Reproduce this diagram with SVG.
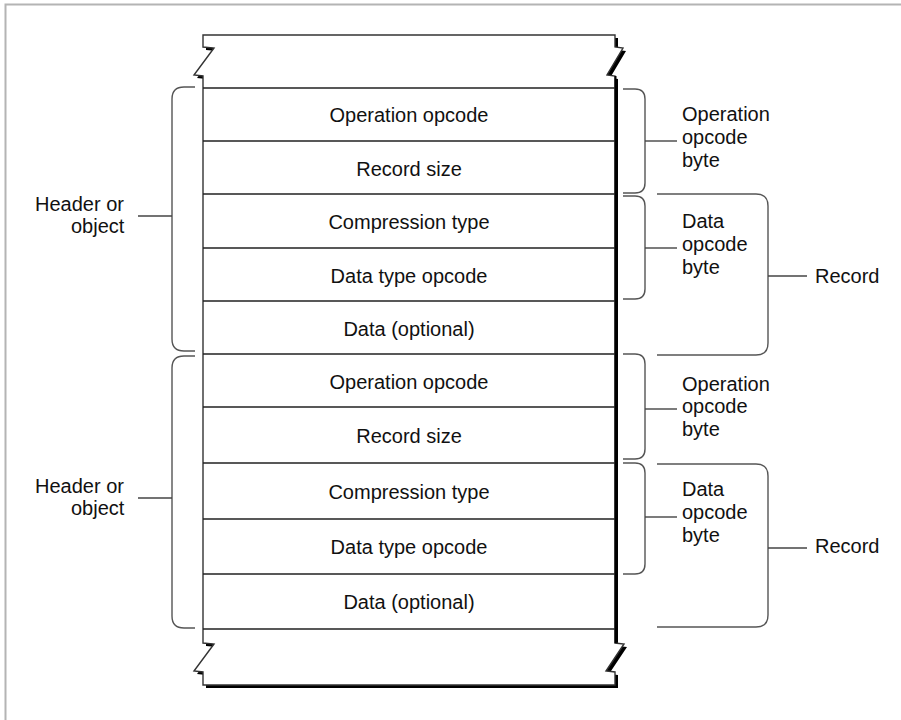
<svg xmlns="http://www.w3.org/2000/svg" width="901" height="720" viewBox="0 0 901 720">
<style>
text{font-family:"Liberation Sans",Arial,sans-serif;font-size:20px;fill:#111}
.c{text-anchor:middle}
.row{stroke:#222;stroke-width:1.5;fill:none}
.br{stroke:#555;stroke-width:1.4;fill:none}
.tk{stroke:#444;stroke-width:1.4;fill:none}
</style>
<rect width="901" height="720" fill="#fff"/>
<path d="M5.5,720 V4.5 H901" fill="none" stroke="#b4b4b4" stroke-width="2"/>
<g id="column">
<path transform="translate(3,3)" d="M203,35 H615 V47 L623,48 L607,75 L615,76 V643 L624,644 L606,671 L615,672 V685 H203 V672 L194,671 L214,644 L203,643 V76 L194,75 L214,48 L203,47 Z" fill="#000"/>
<path d="M203,35 H615 V47 L623,48 L607,75 L615,76 V643 L624,644 L606,671 L615,672 V685 H203 V672 L194,671 L214,644 L203,643 V76 L194,75 L214,48 L203,47 Z" fill="#fff" stroke="#333" stroke-width="1.4" stroke-linejoin="miter"/>
<line x1="615.5" y1="76" x2="615.5" y2="643" stroke="#000" stroke-width="2"/>
</g>
<g id="rows">
<path class="row" d="M203,88 H615 M203,141 H615 M203,194 H615 M203,248 H615 M203,301 H615 M203,354 H615 M203,407 H615 M203,463 H615 M203,519 H615 M203,574 H615 M203,629 H615"/>
</g>
<g id="r1"><text class="c" x="409" y="122">Operation opcode</text></g>
<g id="r2"><text class="c" x="409" y="176">Record size</text></g>
<g id="r3"><text class="c" x="409" y="229">Compression type</text></g>
<g id="r4"><text class="c" x="409" y="283">Data type opcode</text></g>
<g id="r5"><text class="c" x="409" y="336">Data (optional)</text></g>
<g id="r6"><text class="c" x="409" y="389">Operation opcode</text></g>
<g id="r7"><text class="c" x="409" y="443">Record size</text></g>
<g id="r8"><text class="c" x="409" y="499">Compression type</text></g>
<g id="r9"><text class="c" x="409" y="554">Data type opcode</text></g>
<g id="r10"><text class="c" x="409" y="609">Data (optional)</text></g>
<g id="connectors">
<path class="br" d="M195,87 H184 Q172,87 172,99 V339 Q172,351 184,351 H195"/>
<path class="tk" d="M138,216 H172"/>
<path class="br" d="M195,356 H184 Q172,356 172,368 V616 Q172,628 184,628 H195"/>
<path class="tk" d="M138,498 H172"/>
<path class="br" d="M623,89 H635 Q645,89 645,99 V183 Q645,193 635,193 H623"/>
<path class="tk" d="M645,141 H677"/>
<path class="br" d="M623,196 H635 Q645,196 645,206 V289 Q645,299 635,299 H623"/>
<path class="tk" d="M645,248 H677"/>
<path class="br" d="M657,194 H756 Q768,194 768,206 V343 Q768,355 756,355 H657"/>
<path class="tk" d="M768,276 H807"/>
<path class="br" d="M623,354 H635 Q645,354 645,364 V449 Q645,459 635,459 H623"/>
<path class="tk" d="M645,409 H677"/>
<path class="br" d="M623,463 H635 Q645,463 645,473 V564 Q645,574 635,574 H623"/>
<path class="tk" d="M645,517 H677"/>
<path class="br" d="M657,464 H756 Q768,464 768,476 V615 Q768,627 756,627 H657"/>
<path class="tk" d="M768,548 H807"/>
</g>
<g id="hdr1"><text x="35" y="211">Header or</text><text x="71" y="233">object</text></g>
<g id="hdr2"><text x="35" y="493">Header or</text><text x="71" y="515">object</text></g>
<g id="op1"><text x="682" y="121">Operation</text><text x="682" y="144">opcode</text><text x="682" y="167">byte</text></g>
<g id="dt1"><text x="682" y="228">Data</text><text x="682" y="251">opcode</text><text x="682" y="274">byte</text></g>
<g id="rec1"><text x="815" y="283">Record</text></g>
<g id="op2"><text x="682" y="391">Operation</text><text x="682" y="413">opcode</text><text x="682" y="436">byte</text></g>
<g id="dt2"><text x="682" y="496">Data</text><text x="682" y="519">opcode</text><text x="682" y="542">byte</text></g>
<g id="rec2"><text x="815" y="553">Record</text></g>
</svg>
